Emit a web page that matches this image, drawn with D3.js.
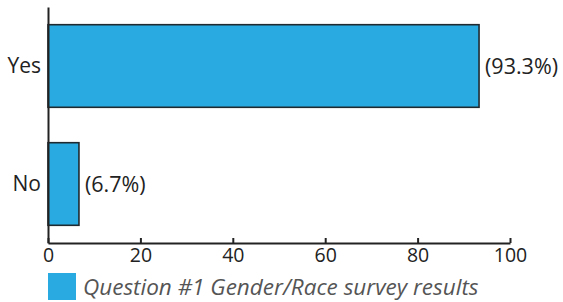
<!DOCTYPE html>
<html>
<head>
<meta charset="utf-8">
<script src="https://cdn.jsdelivr.net/npm/d3@7"></script>
<style>
  body { margin: 0; background: #fff; }
  text { font-family: "Open Sans", "Noto Sans", sans-serif; }
</style>
</head>
<body>
<svg id="chart"></svg>
<script>
const categories = ["Yes", "No"]
const values = [93.3, 6.7]
const valueLabels = ["(93.3%)", "(6.7%)"]
const ticks = [0, 20, 40, 60, 80, 100]
const seriesName = "Question #1 Gender/Race survey results"

let width = 563
let height = 302
let margin = { top: 7, left: 48, right: 56, bottom: 59 }

let svg = d3.select("#chart")
    .attr("width", width)
    .attr("height", height)

let xScale = d3.scaleLinear()
    .domain([0, 100])
    .range([margin.left, width - margin.right + 3])

let yScale = d3.scaleBand()
    .domain(categories)
    .range([margin.top, height - margin.bottom])
    .paddingInner(0.3)
    .paddingOuter(0.15)

let rows = categories.map((c, i) => ({ cat: c, val: values[i], label: valueLabels[i] }))

svg.selectAll(".bar")
    .data(rows)
    .enter()
    .append("rect")
    .attr("class", "bar")
    .attr("x", xScale(0))
    .attr("y", d => yScale(d.cat))
    .attr("width", d => xScale(d.val) - xScale(0))
    .attr("height", yScale.bandwidth())
    .attr("fill", "#29abe2")
    .attr("stroke", "#1f2a30")
    .attr("stroke-width", 1.6)

svg.selectAll(".vlabel")
    .data(rows)
    .enter()
    .append("text")
    .attr("class", "vlabel")
    .attr("x", d => xScale(d.val) + 6)
    .attr("y", d => yScale(d.cat) + yScale.bandwidth() / 2)
    .attr("dy", "0.35em")
    .attr("font-size", 21.5)
    .attr("fill", "#222")
    .text(d => d.label)

let xAxis = d3.axisBottom(xScale)
    .tickValues(ticks)
    .tickSize(-5)
    .tickPadding(5)
    .tickSizeOuter(0)

let gx = svg.append("g")
    .attr("transform", `translate(0, ${height - margin.bottom})`)
    .call(xAxis)
gx.select(".domain").attr("stroke", "#222").attr("stroke-width", 2)
gx.selectAll(".tick line").attr("stroke", "#222").attr("stroke-width", 2)
gx.selectAll(".tick text").attr("font-size", 19.5).attr("fill", "#222")
    .attr("font-family", "'Open Sans', sans-serif")

let yAxis = d3.axisLeft(yScale)
    .tickSize(0)
    .tickSizeOuter(0)
    .tickPadding(7)

let gy = svg.append("g")
    .attr("transform", `translate(${margin.left}, 0)`)
    .call(yAxis)
gy.select(".domain").attr("stroke", "#222").attr("stroke-width", 2)
gy.selectAll(".tick text").attr("font-size", 21).attr("fill", "#222")
    .attr("font-family", "'Open Sans', sans-serif")

// legend
let legend = svg.append("g")
legend.append("rect")
    .attr("x", 48)
    .attr("y", 273)
    .attr("width", 28)
    .attr("height", 27)
    .attr("fill", "#29abe2")
legend.append("text")
    .attr("x", 83)
    .attr("y", 295)
    .attr("font-size", 22.5)
    .attr("font-style", "italic")
    .attr("fill", "#555")
    .text(seriesName)
</script>
</body>
</html>
